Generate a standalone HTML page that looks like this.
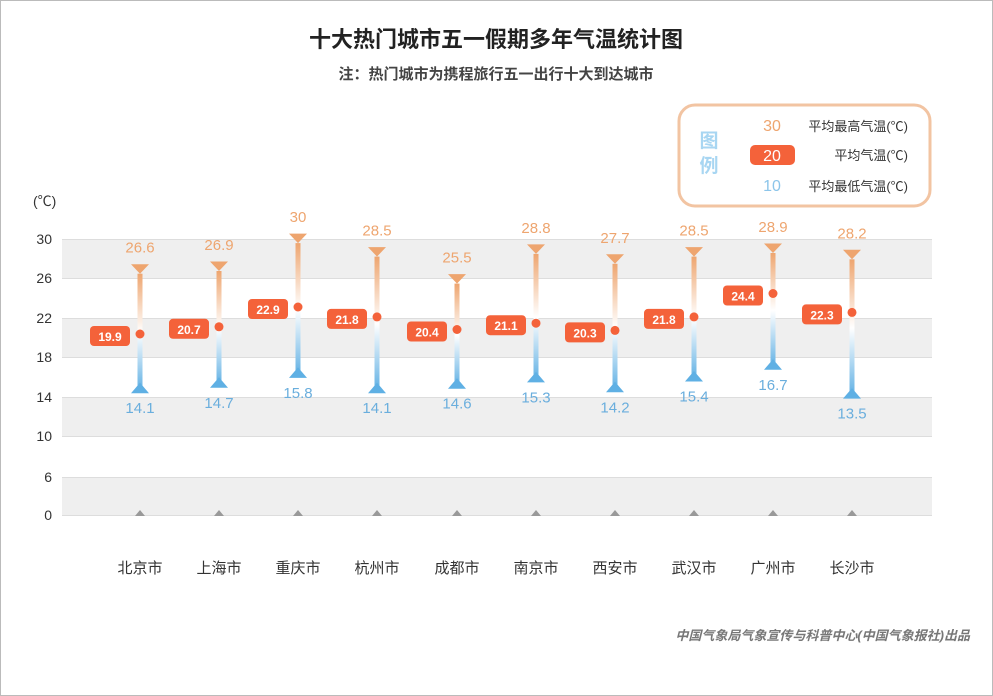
<!DOCTYPE html>
<html><head><meta charset="utf-8"><style>
body{margin:0;background:#fff;}
svg{display:block;font-family:"Liberation Sans","Noto Sans CJK SC",sans-serif;}
</style></head><body>
<svg width="993" height="696" viewBox="0 0 993 696">
<defs>
<linearGradient id="g" x1="0" y1="0" x2="0" y2="1">
<stop offset="0" stop-color="#eea56f"/><stop offset="0.5" stop-color="#fff"/><stop offset="1" stop-color="#5fb0e4"/>
</linearGradient>
</defs>
<rect x="0.5" y="0.5" width="992" height="695" fill="#fff" stroke="#bbb"/>
<text x="496" y="47" text-anchor="middle" font-size="22" font-weight="bold" fill="#222">十大热门城市五一假期多年气温统计图</text>
<text x="496" y="79" text-anchor="middle" font-size="15" font-weight="bold" fill="#444">注：热门城市为携程旅行五一出行十大到达城市</text>
<rect x="679" y="105" width="251" height="101" rx="16" fill="#fff" stroke="#f2c4a2" stroke-width="3"/>
<text x="709" y="147" text-anchor="middle" font-size="19" font-weight="bold" fill="#a8d6f2">图</text>
<text x="709" y="172" text-anchor="middle" font-size="19" font-weight="bold" fill="#a8d6f2">例</text>
<text x="772" y="131" text-anchor="middle" font-size="16" fill="#eea56f">30</text>
<rect x="750" y="145" width="45" height="20" rx="5" fill="#f4623a"/>
<text x="772" y="161" text-anchor="middle" font-size="16" fill="#fff">20</text>
<text x="772" y="191" text-anchor="middle" font-size="16" fill="#8cc5ea">10</text>
<text x="908" y="131" text-anchor="end" font-size="13" fill="#333">平均最高气温(℃)</text>
<text x="908" y="160" text-anchor="end" font-size="13" fill="#333">平均气温(℃)</text>
<text x="908" y="191" text-anchor="end" font-size="13" fill="#333">平均最低气温(℃)</text>
<text x="33" y="206" font-size="14" fill="#333">(℃)</text>
<rect x="62" y="239" width="870" height="39" fill="#efefef"/>
<rect x="62" y="318" width="870" height="39" fill="#efefef"/>
<rect x="62" y="397" width="870" height="39" fill="#efefef"/>
<rect x="62" y="477" width="870" height="38" fill="#efefef"/>
<g stroke="#ddd" stroke-width="1">
<line x1="62" y1="239.5" x2="932" y2="239.5"/><line x1="62" y1="278.5" x2="932" y2="278.5"/>
<line x1="62" y1="318.5" x2="932" y2="318.5"/><line x1="62" y1="357.5" x2="932" y2="357.5"/>
<line x1="62" y1="397.5" x2="932" y2="397.5"/><line x1="62" y1="436.5" x2="932" y2="436.5"/>
<line x1="62" y1="477.5" x2="932" y2="477.5"/><line x1="62" y1="515.5" x2="932" y2="515.5"/>
</g>
<g font-size="14" fill="#333" text-anchor="end">
<text x="52" y="244">30</text><text x="52" y="283">26</text><text x="52" y="323">22</text><text x="52" y="362">18</text>
<text x="52" y="402">14</text><text x="52" y="441">10</text><text x="52" y="482">6</text><text x="52" y="520">0</text>
</g>
<g fill="#999">
<polygon points="135,516 140,510 145,516"/><polygon points="214,516 219,510 224,516"/><polygon points="293,516 298,510 303,516"/>
<polygon points="372,516 377,510 382,516"/><polygon points="452,516 457,510 462,516"/><polygon points="531,516 536,510 541,516"/>
<polygon points="610,516 615,510 620,516"/><polygon points="689,516 694,510 699,516"/><polygon points="768,516 773,510 778,516"/>
<polygon points="847,516 852,510 857,516"/>
</g>
<g font-size="15" fill="#333" text-anchor="middle">
<text x="140" y="573">北京市</text><text x="219" y="573">上海市</text><text x="298" y="573">重庆市</text><text x="377" y="573">杭州市</text>
<text x="457" y="573">成都市</text><text x="536" y="573">南京市</text><text x="615" y="573">西安市</text><text x="694" y="573">武汉市</text>
<text x="773" y="573">广州市</text><text x="852" y="573">长沙市</text>
</g>
<text x="970" y="640" text-anchor="end" font-size="13" font-weight="bold" font-style="italic" fill="#777">中国气象局气象宣传与科普中心(中国气象报社)出品</text>

<g font-size="15" text-anchor="middle">
<g transform="translate(140,0)"><rect x="-2.5" y="273.7" width="5" height="117.5" fill="url(#g)"/><polygon points="-9,264.2 9,264.2 0,273.7" fill="#eea56f"/><polygon points="0,382.7 -9,393.2 9,393.2" fill="#5fb0e4"/><circle cx="0" cy="334" r="4.5" fill="#f4623a"/><text y="252.7" fill="#eea56f">26.6</text><text y="413.2" fill="#6aaedd">14.1</text><rect x="-50" y="326" width="40" height="20" rx="4" fill="#f4623a"/><text x="-30" y="341" font-size="12" font-weight="bold" fill="#fff">19.9</text></g>
<g transform="translate(219,0)"><rect x="-2.5" y="271" width="5" height="114.8" fill="url(#g)"/><polygon points="-9,261.5 9,261.5 0,271" fill="#eea56f"/><polygon points="0,377.3 -9,387.8 9,387.8" fill="#5fb0e4"/><circle cx="0" cy="326.8" r="4.5" fill="#f4623a"/><text y="250" fill="#eea56f">26.9</text><text y="407.8" fill="#6aaedd">14.7</text><rect x="-50" y="318.8" width="40" height="20" rx="4" fill="#f4623a"/><text x="-30" y="333.8" font-size="12" font-weight="bold" fill="#fff">20.7</text></g>
<g transform="translate(298,0)"><rect x="-2.5" y="243.1" width="5" height="132.8" fill="url(#g)"/><polygon points="-9,233.6 9,233.6 0,243.1" fill="#eea56f"/><polygon points="0,367.4 -9,377.9 9,377.9" fill="#5fb0e4"/><circle cx="0" cy="307" r="4.5" fill="#f4623a"/><text y="222.1" fill="#eea56f">30</text><text y="397.9" fill="#6aaedd">15.8</text><rect x="-50" y="299" width="40" height="20" rx="4" fill="#f4623a"/><text x="-30" y="314" font-size="12" font-weight="bold" fill="#fff">22.9</text></g>
<g transform="translate(377,0)"><rect x="-2.5" y="256.6" width="5" height="134.6" fill="url(#g)"/><polygon points="-9,247.1 9,247.1 0,256.6" fill="#eea56f"/><polygon points="0,382.7 -9,393.2 9,393.2" fill="#5fb0e4"/><circle cx="0" cy="316.9" r="4.5" fill="#f4623a"/><text y="235.6" fill="#eea56f">28.5</text><text y="413.2" fill="#6aaedd">14.1</text><rect x="-50" y="308.9" width="40" height="20" rx="4" fill="#f4623a"/><text x="-30" y="323.9" font-size="12" font-weight="bold" fill="#fff">21.8</text></g>
<g transform="translate(457,0)"><rect x="-2.5" y="283.6" width="5" height="103.1" fill="url(#g)"/><polygon points="-9,274.1 9,274.1 0,283.6" fill="#eea56f"/><polygon points="0,378.2 -9,388.7 9,388.7" fill="#5fb0e4"/><circle cx="0" cy="329.5" r="4.5" fill="#f4623a"/><text y="262.6" fill="#eea56f">25.5</text><text y="408.7" fill="#6aaedd">14.6</text><rect x="-50" y="321.5" width="40" height="20" rx="4" fill="#f4623a"/><text x="-30" y="336.5" font-size="12" font-weight="bold" fill="#fff">20.4</text></g>
<g transform="translate(536,0)"><rect x="-2.5" y="253.9" width="5" height="126.5" fill="url(#g)"/><polygon points="-9,244.4 9,244.4 0,253.9" fill="#eea56f"/><polygon points="0,371.9 -9,382.4 9,382.4" fill="#5fb0e4"/><circle cx="0" cy="323.2" r="4.5" fill="#f4623a"/><text y="232.9" fill="#eea56f">28.8</text><text y="402.4" fill="#6aaedd">15.3</text><rect x="-50" y="315.2" width="40" height="20" rx="4" fill="#f4623a"/><text x="-30" y="330.2" font-size="12" font-weight="bold" fill="#fff">21.1</text></g>
<g transform="translate(615,0)"><rect x="-2.5" y="263.8" width="5" height="126.5" fill="url(#g)"/><polygon points="-9,254.3 9,254.3 0,263.8" fill="#eea56f"/><polygon points="0,381.8 -9,392.3 9,392.3" fill="#5fb0e4"/><circle cx="0" cy="330.4" r="4.5" fill="#f4623a"/><text y="242.8" fill="#eea56f">27.7</text><text y="412.3" fill="#6aaedd">14.2</text><rect x="-50" y="322.4" width="40" height="20" rx="4" fill="#f4623a"/><text x="-30" y="337.4" font-size="12" font-weight="bold" fill="#fff">20.3</text></g>
<g transform="translate(694,0)"><rect x="-2.5" y="256.6" width="5" height="122.9" fill="url(#g)"/><polygon points="-9,247.1 9,247.1 0,256.6" fill="#eea56f"/><polygon points="0,371 -9,381.5 9,381.5" fill="#5fb0e4"/><circle cx="0" cy="316.9" r="4.5" fill="#f4623a"/><text y="235.6" fill="#eea56f">28.5</text><text y="401.5" fill="#6aaedd">15.4</text><rect x="-50" y="308.9" width="40" height="20" rx="4" fill="#f4623a"/><text x="-30" y="323.9" font-size="12" font-weight="bold" fill="#fff">21.8</text></g>
<g transform="translate(773,0)"><rect x="-2.5" y="253" width="5" height="114.8" fill="url(#g)"/><polygon points="-9,243.5 9,243.5 0,253" fill="#eea56f"/><polygon points="0,359.3 -9,369.8 9,369.8" fill="#5fb0e4"/><circle cx="0" cy="293.5" r="4.5" fill="#f4623a"/><text y="232" fill="#eea56f">28.9</text><text y="389.8" fill="#6aaedd">16.7</text><rect x="-50" y="285.5" width="40" height="20" rx="4" fill="#f4623a"/><text x="-30" y="300.5" font-size="12" font-weight="bold" fill="#fff">24.4</text></g>
<g transform="translate(852,0)"><rect x="-2.5" y="259.3" width="5" height="137.3" fill="url(#g)"/><polygon points="-9,249.8 9,249.8 0,259.3" fill="#eea56f"/><polygon points="0,388.1 -9,398.6 9,398.6" fill="#5fb0e4"/><circle cx="0" cy="312.4" r="4.5" fill="#f4623a"/><text y="238.3" fill="#eea56f">28.2</text><text y="418.6" fill="#6aaedd">13.5</text><rect x="-50" y="304.4" width="40" height="20" rx="4" fill="#f4623a"/><text x="-30" y="319.4" font-size="12" font-weight="bold" fill="#fff">22.3</text></g>
</g>
</svg>
</body></html>
